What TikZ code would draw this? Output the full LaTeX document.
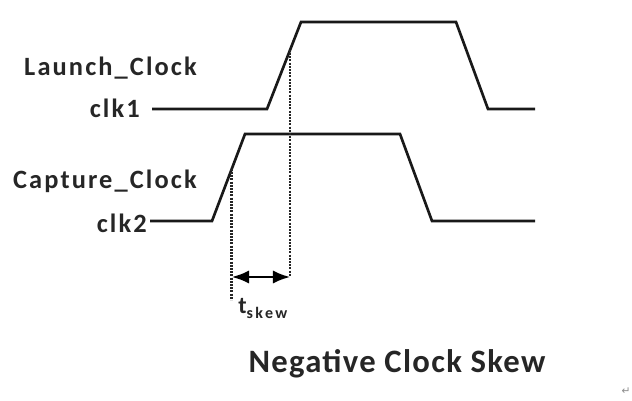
\documentclass[tikz,border=0pt]{standalone}
\usepackage{fontspec}
\setmainfont{Carlito}
\newfontfamily\symfont{DejaVu Sans}
\usetikzlibrary{arrows.meta,calc}
\begin{document}
\begin{tikzpicture}[x=0.75pt,y=-0.75pt,
  lbl/.style={inner sep=0pt,font=\fontsize{19.8pt}{21pt}\selectfont\bfseries\addfontfeature{LetterSpace=8},text=black!85},
  wave/.style={line width=2pt,line join=miter,black!90},
  dotline/.style={line width=2pt,dash pattern=on 1.5pt off 0.9pt,black!85},
  skewarrow/.style={line width=1.8pt,{Latex[length=13pt,width=10pt]}-{Latex[length=13pt,width=10pt]}}]
\useasboundingbox (0,0) rectangle (632,400);
\fill[white] (0,0) rectangle (632,400);
% labels
\node[lbl,anchor=base east] (launch) at (197,75) {Launch\_Clock};
\node[lbl,anchor=base east] (clka) at (140,117) {clk1};
\node[lbl,anchor=base east] (capture) at (197,188) {Capture\_Clock};
\node[lbl,anchor=base east] (clkb) at (147,232) {clk2};
% clk1 waveform
\coordinate (a0) at (152,109);
\coordinate (a1) at (267,109);
\coordinate (a2) at (301,22);
\coordinate (a3) at (456,22);
\coordinate (a4) at (488,109);
\coordinate (a5) at (535,109);
\draw[wave] (a0) -- (a1) -- (a2) -- (a3) -- (a4) -- (a5);
% clk2 waveform
\coordinate (b0) at (150,221);
\coordinate (b1) at (212,221);
\coordinate (b2) at (245,134);
\coordinate (b3) at (400,134);
\coordinate (b4) at (432,221);
\coordinate (b5) at (535,221);
\draw[wave] (b0) -- (b1) -- (b2) -- (b3) -- (b4) -- (b5);
% dotted markers
\coordinate (d0top) at ($(b1)!0.6!(b2)$);
\coordinate (d1top) at ($(a1)!0.68!(a2)$);
\path (0,300) coordinate (ybot) (0,277) coordinate (yarr);
\draw[dotline] (d0top) -- (d0top |- ybot);
\draw[dotline] (d1top) -- (d1top |- yarr);
\draw[skewarrow] (d0top |- yarr) -- (d1top |- yarr);
% t_skew
\node[inner sep=0pt,anchor=base west,text=black!85] (tskew) at (238,313)
  {\fontsize{18pt}{19pt}\selectfont\bfseries t\raisebox{-3.8pt}{\fontsize{12pt}{13pt}\selectfont\addfontfeature{LetterSpace=15}skew}};
% title
\node[lbl,anchor=base,font=\fontsize{24.5pt}{26pt}\selectfont\bfseries\addfontfeature{LetterSpace=4}] (title) at (397,372) {Negative Clock Skew};
% return mark
\node[inner sep=0pt,text=black!45,font=\symfont\fontsize{8pt}{9pt}\selectfont] (ret) at (626,391) {↵};
\end{tikzpicture}
\end{document}
